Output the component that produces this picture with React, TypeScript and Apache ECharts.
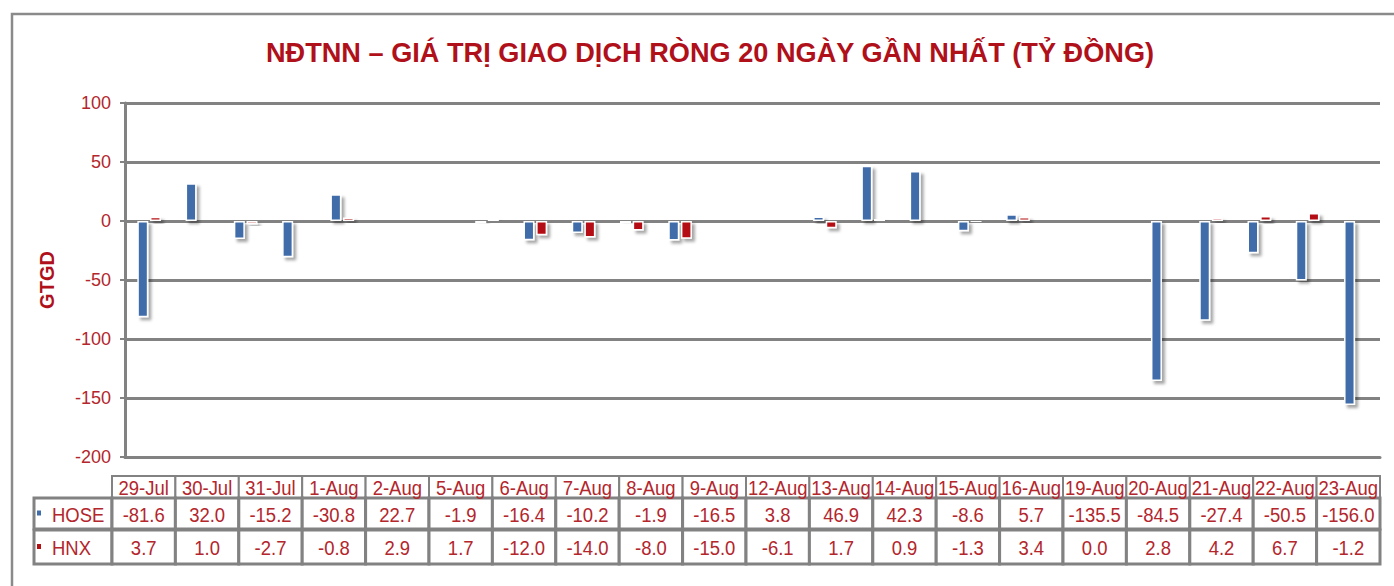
import React, { useEffect, useRef } from "react";
import * as echarts from "echarts";

const TITLE = "NĐTNN – GIÁ TRỊ GIAO DỊCH RÒNG 20 NGÀY GẦN NHẤT (TỶ ĐỒNG)";
const Y_NAME = "GTGD";

// Calendar days shown on the date axis (weekends have no trades)
const calendarDays = [
  "29-Jul", "30-Jul", "31-Jul", "1-Aug", "2-Aug", "3-Aug", "4-Aug", "5-Aug",
  "6-Aug", "7-Aug", "8-Aug", "9-Aug", "10-Aug", "11-Aug", "12-Aug", "13-Aug",
  "14-Aug", "15-Aug", "16-Aug", "17-Aug", "18-Aug", "19-Aug", "20-Aug",
  "21-Aug", "22-Aug", "23-Aug",
];

// Trading days (table columns)
const tradingDays = [
  "29-Jul", "30-Jul", "31-Jul", "1-Aug", "2-Aug", "5-Aug", "6-Aug", "7-Aug",
  "8-Aug", "9-Aug", "12-Aug", "13-Aug", "14-Aug", "15-Aug", "16-Aug",
  "19-Aug", "20-Aug", "21-Aug", "22-Aug", "23-Aug",
];

const seriesNames = ["HOSE", "HNX"];

const hose = [
  -81.6, 32.0, -15.2, -30.8, 22.7, -1.9, -16.4, -10.2, -1.9, -16.5, 3.8, 46.9,
  42.3, -8.6, 5.7, -135.5, -84.5, -27.4, -50.5, -156.0,
];

const hnx = [
  3.7, 1.0, -2.7, -0.8, 2.9, 1.7, -12.0, -14.0, -8.0, -15.0, -6.1, 1.7, 0.9,
  -1.3, 3.4, 0.0, 2.8, 4.2, 6.7, -1.2,
];

const yMin = -200;
const yMax = 100;
const yStep = 50;

const BLUE = "#3F6DAA";
const RED = "#B50F14";
const TEXT_RED = "#B3262C";
const TITLE_RED = "#B0101A";
const GRID_GRAY = "#828282";
const FONT = "'Liberation Sans', Arial, sans-serif";
const NARROW = 0.88;

const W = 1394;
const H = 586;

export default function App() {
  const ref = useRef<HTMLDivElement>(null);

  useEffect(() => {
    if (!ref.current) return;
    const chart = echarts.init(ref.current, null, { renderer: "svg", width: W, height: H });

    const toCalendar = (vals: number[]) =>
      calendarDays.map((d) => {
        const i = tradingDays.indexOf(d);
        return i >= 0 ? vals[i] : null;
      });

    const plotLeft = 125;
    const plotRight = 1380;
    const plotTop = 103;
    const plotBottom = 457;

    // Data table layout
    const tblLeft = 112;
    const labelLeft = 34;
    const tblRight = 1380;
    const colW = (tblRight - tblLeft) / tradingDays.length;
    const rowTops = [476, 498, 530];
    const rowBottoms = [498, 529, 564];
    const rows = [
      tradingDays,
      hose.map((v) => v.toFixed(1)),
      hnx.map((v) => v.toFixed(1)),
    ];

    const graphics: any[] = [];
    // outer border
    graphics.push({
      type: "rect",
      shape: { x: 12, y: 14, width: 1500, height: 700 },
      style: { fill: "none", stroke: "#8a8a8a", lineWidth: 2.5 },
      silent: true,
      z: 0,
    });
    // title (bold)
    graphics.push({
      type: "text",
      x: 710,
      y: 52,
      scaleX: 0.97,
      style: {
        text: TITLE,
        fill: TITLE_RED,
        font: `bold 28px ${FONT}`,
        align: "center",
        verticalAlign: "middle",
      },
      z: 20,
    });

    rows.forEach((cells, r) => {
      const y0 = rowTops[r];
      const y1 = rowBottoms[r];
      if (r > 0) {
        graphics.push({
          type: "rect",
          shape: { x: labelLeft, y: y0, width: tblLeft - labelLeft, height: y1 - y0 },
          style: { fill: "#fff", stroke: GRID_GRAY, lineWidth: 3 },
          z: 10,
        });
        graphics.push({
          type: "rect",
          shape: { x: 37, y: (y0 + y1) / 2 - 3, width: 4, height: 5 },
          style: { fill: r === 1 ? BLUE : RED },
          z: 12,
        });
        graphics.push({
          type: "text",
          x: 52,
          y: (y0 + y1) / 2 + 1,
          scaleX: NARROW,
          style: {
            text: seriesNames[r - 1],
            fill: TEXT_RED,
            font: `21px ${FONT}`,
            verticalAlign: "middle",
            align: "left",
          },
          z: 12,
        });
      }
      cells.forEach((txt, c) => {
        const x0 = tblLeft + c * colW;
        graphics.push({
          type: "rect",
          shape: { x: x0, y: y0, width: colW, height: y1 - y0 },
          style: { fill: "#fff", stroke: GRID_GRAY, lineWidth: r === 0 ? 2 : 3 },
          z: 10,
        });
        graphics.push({
          type: "text",
          x: x0 + colW / 2,
          y: (y0 + y1) / 2 + 1,
          scaleX: NARROW,
          style: {
            text: String(txt),
            fill: TEXT_RED,
            font: `21px ${FONT}`,
            verticalAlign: "middle",
            align: "center",
          },
          z: 12,
        });
      });
    });

    const barStyle = (color: string) => ({
      color,
      borderColor: "#ffffff",
      borderWidth: 1.5,
      shadowColor: "rgba(0,0,0,0.35)",
      shadowBlur: 3,
      shadowOffsetX: 3,
      shadowOffsetY: 3,
    });

    chart.setOption({
      animation: false,
      backgroundColor: "#ffffff",
      grid: {
        left: plotLeft,
        right: W - plotRight,
        top: plotTop,
        bottom: H - plotBottom,
        containLabel: false,
      },
      xAxis: {
        type: "category",
        data: calendarDays,
        boundaryGap: true,
        axisLabel: { show: false },
        axisTick: { show: false },
        axisLine: { show: true, onZero: false, lineStyle: { color: GRID_GRAY, width: 3 } },
        splitLine: { show: false },
      },
      yAxis: {
        type: "value",
        min: yMin,
        max: yMax,
        interval: yStep,
        name: Y_NAME,
        nameLocation: "middle",
        nameGap: 68,
        nameRotate: 90,
        nameTextStyle: {
          color: TITLE_RED,
          fontFamily: FONT,
          fontWeight: "bold",
          fontSize: 20,
        },
        axisLine: { show: true, lineStyle: { color: GRID_GRAY, width: 3 } },
        axisTick: { show: true, length: 5, lineStyle: { color: GRID_GRAY, width: 2 } },
        axisLabel: {
          color: TEXT_RED,
          fontFamily: FONT,
          fontSize: 18,
          margin: 14,
        },
        splitLine: { show: true, lineStyle: { color: GRID_GRAY, width: 3 } },
      },
      series: [
        {
          name: seriesNames[0],
          type: "bar",
          data: toCalendar(hose),
          barWidth: 11,
          barGap: "15%",
          itemStyle: barStyle(BLUE),
        },
        {
          name: seriesNames[1],
          type: "bar",
          data: toCalendar(hnx),
          barWidth: 11,
          barGap: "15%",
          itemStyle: barStyle(RED),
        },
      ],
      graphic: graphics,
    });

    return () => chart.dispose();
  }, []);

  return (
    <div
      ref={ref}
      style={{ position: "fixed", left: 0, top: 0, width: W, height: H, background: "#fff" }}
    />
  );
}
